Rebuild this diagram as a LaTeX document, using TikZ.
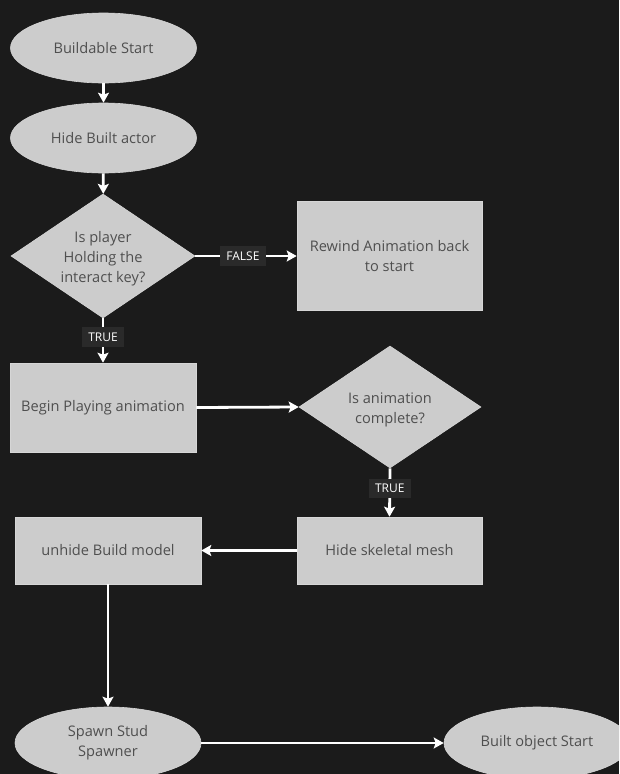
\documentclass[tikz,border=0pt]{standalone}
\usepackage{fontspec}
\setmainfont{Open Sans}
\usetikzlibrary{shapes.geometric,arrows.meta}
\definecolor{bg}{HTML}{1B1B1B}
\definecolor{boxfill}{HTML}{CCCCCC}
\definecolor{boxline}{HTML}{D6D6D6}
\definecolor{txtcol}{HTML}{4F4F4F}
\definecolor{lblfill}{HTML}{2A2A2A}
\tikzset{
  base/.style={fill=boxfill, draw=boxline, line width=0.6pt, text=txtcol,
    font=\fontsize{14.6}{20}\selectfont, align=center, inner sep=0pt},
  oval/.style={base, ellipse, minimum width=186pt, minimum height=70pt},
  rbox/.style={base, rectangle},
  dia/.style={base, diamond, minimum width=184pt, minimum height=124pt},
  txt/.style={text=txtcol, font=\fontsize{14.6}{20}\selectfont, align=center, inner sep=0pt},
  conn/.style={draw=white, line width=2.8pt, -{Stealth[length=10pt,width=11pt,inset=2pt]}},
  lbl/.style={fill=lblfill, text=white, font=\fontsize{12}{14}\selectfont, inner xsep=6.5pt, inner ysep=5.5pt}
}
\begin{document}
\begin{tikzpicture}[x=1pt,y=-1pt]
\fill[bg] (0,0) rectangle (619,774);
\useasboundingbox (0,0) rectangle (619,774);
\begin{scope}
\clip (0,0) rectangle (619,774);
\node[oval] (bs) at (103.5,48) {Buildable Start};
\node[oval] (hb) at (103.5,138) {Hide Built actor};
\node[dia] (d1) at (103,256) {};
\node[txt] (d1t) at (103,258.5) {Is player\\Holding the\\interact key?};
\node[rbox, minimum width=185pt, minimum height=109pt] (rw) at (389.5,256) {Rewind Animation back\\to start};
\node[rbox, minimum width=186pt, minimum height=89pt] (bp) at (103,407.5) {Begin Playing animation};
\node[dia, minimum width=182pt, minimum height=122pt] (d2) at (390,407) {};
\node[txt] (d2t) at (390,409.5) {Is animation\\complete?};
\node[rbox, minimum width=185pt, minimum height=67pt] (hs) at (389.5,550.5) {Hide skeletal mesh};
\node[rbox, minimum width=186pt, minimum height=67pt] (ub) at (108,550.5) {unhide Build model};
\node[oval, minimum height=72pt] (ss) at (108,743) {Spawn Stud\\Spawner};
\node[oval, minimum height=72pt] (bo) at (537,743) {Built object Start};

\draw[conn] (bs) -- (hb);
\draw[conn] (hb) -- (d1);
\draw[conn] (d1.east) -- node[lbl, pos=0.47] (lf) {FALSE} (rw.west);
\draw[conn] (d1.south) -- node[lbl, pos=0.42] (lt1) {TRUE} (bp.north);
\draw[conn] (bp.east) -- (d2.west);
\draw[conn] (d2.south) -- node[lbl, pos=0.42] (lt2) {TRUE} (hs.north);
\draw[conn] (hs.west) -- (ub.east);
\draw[conn] (ub.south) -- (ss.north);
\draw[conn] (ss.east) -- (bo.west);
\end{scope}
\end{tikzpicture}
\end{document}
